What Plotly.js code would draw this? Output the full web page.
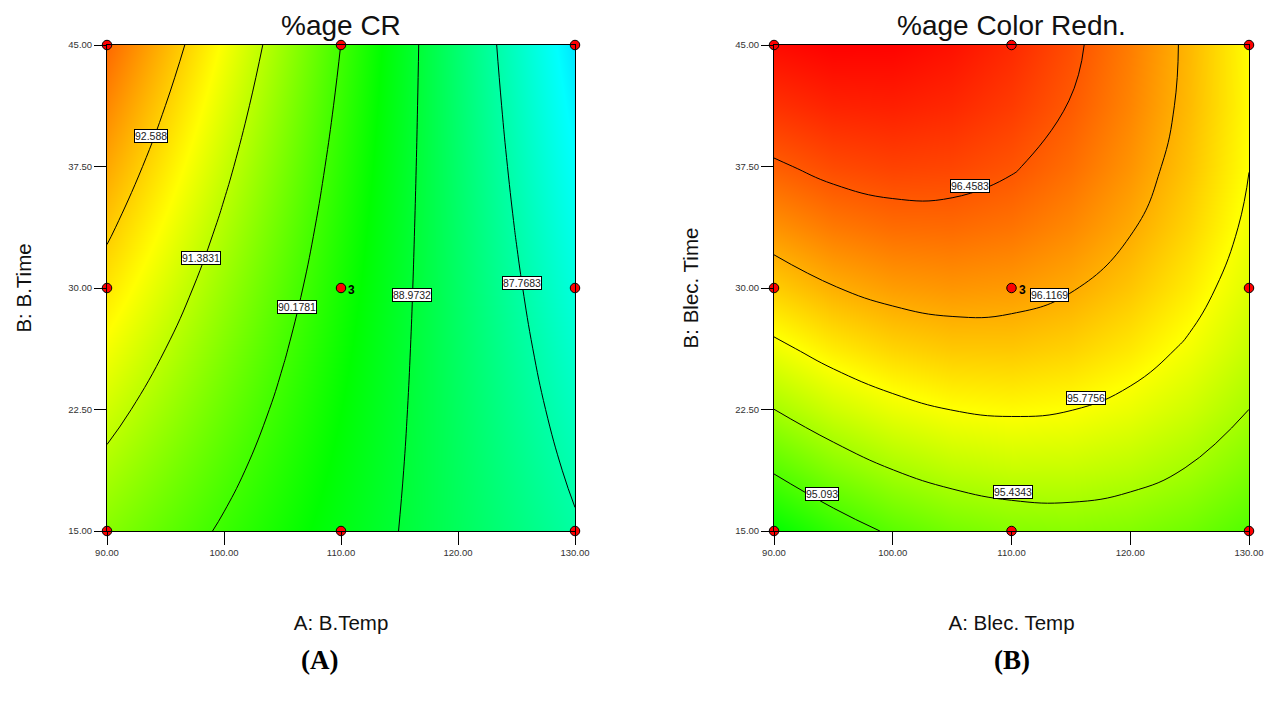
<!DOCTYPE html>
<html>
<head>
<meta charset="utf-8">
<script src="https://cdn.plot.ly/plotly-3.0.1.min.js"></script>
<style>
  html, body { margin: 0; padding: 0; background: #fff; }
  #chart { width: 1279px; height: 708px; }
</style>
</head>
<body>
<div id="chart"></div>
<script>
// Factor levels (A: temperature, B: time)
const temps = [90, 95, 100, 105, 110, 115, 120, 125, 130];
const times = [15, 18.75, 22.5, 26.25, 30, 33.75, 37.5, 41.25, 45];

// Predicted %age CR, one row per time (15 -> 45), one column per temperature (90 -> 130)
const crRows = [
  [90.862, 90.483, 90.104, 89.725, 89.346, 88.967, 88.588, 88.209, 87.830],
  [91.228, 90.783, 90.339, 89.894, 89.450, 89.005, 88.560, 88.116, 87.671],
  [91.594, 91.084, 90.574, 90.063, 89.553, 89.043, 88.533, 88.022, 87.512],
  [91.960, 91.384, 90.808, 90.232, 89.657, 89.081, 88.505, 87.929, 87.353],
  [92.326, 91.685, 91.043, 90.402, 89.760, 89.119, 88.477, 87.836, 87.194],
  [92.692, 91.985, 91.278, 90.571, 89.864, 89.156, 88.449, 87.742, 87.035],
  [93.058, 92.285, 91.513, 90.740, 89.967, 89.194, 88.422, 87.649, 86.876],
  [93.424, 92.586, 91.747, 90.909, 90.071, 89.232, 88.394, 87.555, 86.717],
  [93.790, 92.886, 91.982, 91.078, 90.174, 89.270, 88.366, 87.462, 86.558]
];

// Predicted %age Color Redn., same grid layout
const redRows = [
  [94.768, 94.970, 95.127, 95.237, 95.301, 95.319, 95.291, 95.216, 95.096],
  [95.114, 95.296, 95.432, 95.522, 95.565, 95.563, 95.514, 95.420, 95.279],
  [95.433, 95.595, 95.710, 95.779, 95.803, 95.780, 95.711, 95.595, 95.434],
  [95.724, 95.865, 95.960, 96.009, 96.012, 95.969, 95.879, 95.744, 95.562],
  [95.988, 96.109, 96.183, 96.212, 96.194, 96.130, 96.020, 95.864, 95.662],
  [96.224, 96.325, 96.379, 96.387, 96.349, 96.264, 96.134, 95.957, 95.735],
  [96.433, 96.513, 96.547, 96.534, 96.476, 96.371, 96.220, 96.023, 95.780],
  [96.614, 96.674, 96.687, 96.654, 96.575, 96.450, 96.279, 96.061, 95.798],
  [96.768, 96.807, 96.800, 96.746, 96.647, 96.501, 96.310, 96.072, 95.788]
];

// Contour levels drawn on each surface
const crLevels  = [87.7683, 88.9732, 90.1781, 91.3831, 92.588];
const redLevels = [95.093, 95.4343, 95.7756, 96.1169, 96.4583];

// Design points (factorial, axial and centre runs)
const designTemp = [90, 90, 90, 110, 110, 130, 130, 130, 110];
const designTime = [15, 30, 45, 15, 45, 15, 30, 45, 30];
const centreRuns = 3;

const xTickVals = [90, 100, 110, 120, 130];
const yTickVals = [15, 22.5, 30, 37.5, 45];

const FONT = 'Liberation Sans, Arial, sans-serif';
const SERIF = 'Liberation Serif, Times New Roman, serif';

// blue -> cyan -> green -> yellow -> red, with stop positions per surface
function spectrum(zmin, zmax, cyan, green, yellow) {
  const t = v => (v - zmin) / (zmax - zmin);
  return [
    [0, 'rgb(0,0,255)'],
    [t(cyan), 'rgb(0,255,255)'],
    [t(green), 'rgb(0,255,0)'],
    [t(yellow), 'rgb(255,255,0)'],
    [1, 'rgb(255,0,0)']
  ];
}

function surface(rows, levels, zmin, zmax, scale, xa, ya) {
  const step = (levels[levels.length - 1] - levels[0]) / (levels.length - 1);
  return {
    type: 'contour',
    x: temps, y: times, z: rows,
    xaxis: xa, yaxis: ya,
    colorscale: scale,
    zauto: false, zmin: zmin, zmax: zmax,
    showscale: false,
    autocontour: false,
    contours: {
      coloring: 'heatmap',
      start: levels[0],
      end: levels[levels.length - 1] + step * 0.01,
      size: step,
      showlabels: false
    },
    line: { color: '#000', width: 1, smoothing: 1.3 },
    hoverinfo: 'skip'
  };
}

function designPoints(xa, ya) {
  return {
    type: 'scatter', mode: 'markers',
    x: designTemp, y: designTime,
    xaxis: xa, yaxis: ya,
    cliponaxis: false,
    marker: { color: 'rgb(255,0,0)', size: 9.5, line: { color: '#000', width: 1 } },
    hoverinfo: 'x+y'
  };
}

const fmt = v => v.toFixed(2);

function xAxis(domain, anchor, title) {
  return {
    domain: domain, anchor: anchor, range: [90, 130],
    tickvals: xTickVals, ticktext: xTickVals.map(fmt),
    ticks: 'outside', ticklen: 13, tickcolor: '#000', tickwidth: 1,
    tickfont: { family: FONT, size: 9.5, color: '#333' },
    showline: true, mirror: true, linecolor: '#000', linewidth: 1,
    showgrid: false, zeroline: false,
    title: { text: title, font: { family: FONT, size: 20.5, color: '#111' }, standoff: 58 }
  };
}

function yAxis(anchor, title) {
  return {
    domain: [0, 1], anchor: anchor, range: [15, 45],
    tickvals: yTickVals, ticktext: yTickVals.map(fmt),
    ticks: 'outside', ticklen: 12, tickcolor: '#000', tickwidth: 1,
    tickfont: { family: FONT, size: 9.5, color: '#333' },
    showline: true, mirror: true, linecolor: '#000', linewidth: 1,
    showgrid: false, zeroline: false,
    title: { text: title, font: { family: FONT, size: 20.5, color: '#111' }, standoff: 31 }
  };
}

// Contour value tags: [temperature, time] placement for each level
const crTagAt  = [[125.47, 30.31], [116.07, 29.57], [106.24, 28.83], [98.03, 31.85], [93.80, 39.38]];
const redTagAt = [[94.06, 17.28], [110.13, 17.41], [116.25, 23.21], [113.24, 29.57], [106.48, 36.30]];

function tags(levels, places, xref, yref) {
  return levels.map((v, i) => ({
    x: places[i][0], y: places[i][1], xref: xref, yref: yref,
    xanchor: 'center', yanchor: 'middle',
    text: String(v), showarrow: false,
    bgcolor: '#fff', bordercolor: '#000', borderwidth: 1, borderpad: 0,
    font: { family: FONT, size: 10.5, color: '#222' }
  }));
}

function centreTag(xref, yref) {
  return {
    x: 110, y: 30, xref: xref, yref: yref, text: '<b>' + centreRuns + '</b>',
    showarrow: false, xanchor: 'left', xshift: 5, yshift: -2,
    font: { family: FONT, size: 12, color: '#000' }
  };
}

const domA = [0, 468 / 1142];
const domB = [667 / 1142, 1];

function heading(text, x, y, font) {
  return { text: text, xref: 'paper', yref: 'paper', x: x, y: y,
           xanchor: 'center', yanchor: 'middle', showarrow: false, font: font };
}

const annotations = [
  heading('%age CR', (domA[0] + domA[1]) / 2, 1.041, { family: FONT, size: 28, color: '#111' }),
  heading('%age Color Redn.', (domB[0] + domB[1]) / 2, 1.041, { family: FONT, size: 28, color: '#111' }),
  heading('<b>(A)</b>', 0.1865, -0.2654, { family: SERIF, size: 27, color: '#000' }),
  heading('<b>(B)</b>', 0.7925, -0.2654, { family: SERIF, size: 27, color: '#000' }),
  ...tags(crLevels, crTagAt, 'x', 'y'),
  ...tags(redLevels, redTagAt, 'x2', 'y2'),
  centreTag('x', 'y'),
  centreTag('x2', 'y2')
];

const data = [
  surface(crRows, crLevels, 84.15, 95.0, spectrum(84.15, 95.0, 86.85, 89.55, 92.05), 'x', 'y'),
  designPoints('x', 'y'),
  surface(redRows, redLevels, 92.73, 96.81, spectrum(92.73, 96.81, 93.75, 94.77, 95.79), 'x2', 'y2'),
  designPoints('x2', 'y2')
];

const layout = {
  width: 1279, height: 708,
  margin: { l: 107, r: 30, t: 45, b: 177 },
  paper_bgcolor: '#fff', plot_bgcolor: '#fff',
  showlegend: false,
  xaxis: xAxis(domA, 'y', 'A: B.Temp'),
  yaxis: yAxis('x', 'B: B.Time'),
  xaxis2: xAxis(domB, 'y2', 'A: Blec. Temp'),
  yaxis2: yAxis('x2', 'B: Blec. Time'),
  annotations: annotations
};

Plotly.newPlot('chart', data, layout, { displayModeBar: false, staticPlot: true });
</script>
</body>
</html>
